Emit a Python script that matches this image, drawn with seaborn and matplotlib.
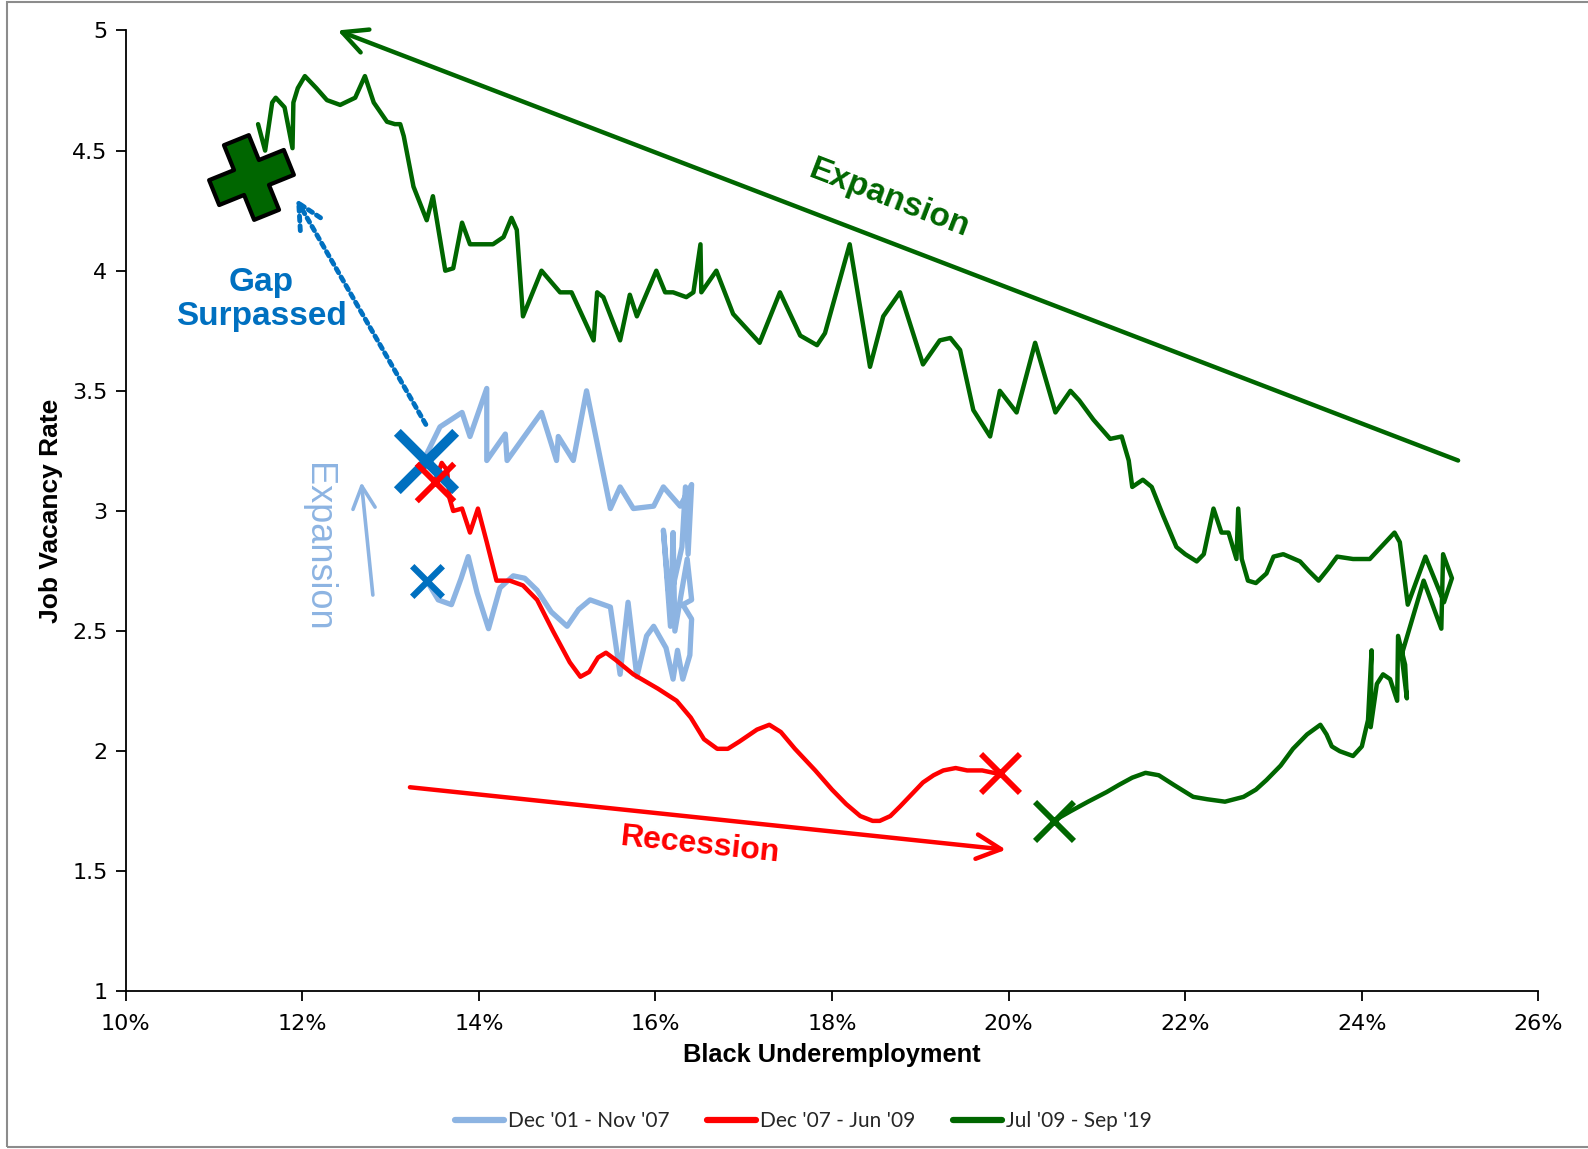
import numpy as np
import pandas as pd
import matplotlib
matplotlib.use("Agg")
import matplotlib.pyplot as plt
from matplotlib.lines import Line2D
from matplotlib.markers import MarkerStyle
from matplotlib.patches import Rectangle
from matplotlib.ticker import FuncFormatter
from matplotlib.transforms import Affine2D
import seaborn as sns

# ---------- data (x = Black underemployment %, y = job vacancy rate) ----------
pre_x = [13.41, 13.54, 13.69, 13.80, 13.88, 13.98, 14.11, 14.24, 14.39, 14.52, 14.66, 14.82,
         15.00, 15.13, 15.26, 15.49, 15.60, 15.69, 15.79, 15.90, 15.98, 16.12, 16.20, 16.25,
         16.31, 16.39, 16.41, 16.31, 16.41, 16.36, 16.22, 16.20, 16.17, 16.09, 16.16, 16.30,
         16.34, 16.37, 16.41, 16.28, 16.09, 15.98, 15.75, 15.60, 15.49, 15.22, 15.07, 14.90,
         14.88, 14.71, 14.32, 14.30, 14.09, 14.09, 13.90, 13.81, 13.56, 13.40]
pre_y = [2.71, 2.63, 2.61, 2.72, 2.81, 2.66, 2.51, 2.68, 2.73, 2.72, 2.67, 2.58,
         2.52, 2.59, 2.63, 2.60, 2.32, 2.62, 2.31, 2.48, 2.52, 2.43, 2.30, 2.42,
         2.30, 2.40, 2.55, 2.61, 2.63, 2.80, 2.50, 2.91, 2.52, 2.92, 2.62, 2.85,
         3.10, 2.82, 3.11, 3.02, 3.10, 3.02, 3.01, 3.10, 3.01, 3.50, 3.21, 3.31,
         3.21, 3.41, 3.21, 3.32, 3.21, 3.51, 3.31, 3.41, 3.35, 3.23]

rec_x = [13.50, 13.58, 13.64, 13.67, 13.71, 13.81, 13.90, 13.99, 14.09, 14.20, 14.35, 14.50,
         14.66, 14.84, 15.03, 15.15, 15.25, 15.35, 15.44, 15.55, 15.75, 16.03, 16.24, 16.40,
         16.55, 16.70, 16.82, 16.95, 17.15, 17.29, 17.42, 17.58, 17.81, 18.00, 18.16, 18.32,
         18.46, 18.54, 18.66, 18.77, 18.90, 19.03, 19.15, 19.26, 19.40, 19.53, 19.70, 19.83,
         19.90]
rec_y = [3.12, 3.20, 3.17, 3.05, 3.00, 3.01, 2.91, 3.01, 2.87, 2.71, 2.71, 2.69,
         2.63, 2.50, 2.37, 2.31, 2.33, 2.39, 2.41, 2.38, 2.32, 2.26, 2.21, 2.14,
         2.05, 2.01, 2.01, 2.04, 2.09, 2.11, 2.08, 2.01, 1.92, 1.84, 1.78, 1.73,
         1.71, 1.71, 1.73, 1.77, 1.82, 1.87, 1.90, 1.92, 1.93, 1.92, 1.92, 1.91,
         1.91]

exp_x = [20.51, 20.70, 20.90, 21.11, 21.25, 21.40, 21.55, 21.70, 21.87, 22.09, 22.25, 22.45,
         22.66, 22.80, 22.92, 23.08, 23.22, 23.38, 23.53, 23.60, 23.66, 23.75, 23.90, 24.00,
         24.07, 24.11, 24.10, 24.17, 24.24, 24.32, 24.40, 24.41, 24.49, 24.51, 24.45, 24.70,
         24.90, 24.92, 25.02, 24.93, 24.72, 24.52, 24.43, 24.37, 24.09, 23.90, 23.72, 23.62,
         23.51, 23.40, 23.30, 23.11, 23.00, 22.92, 22.80, 22.71, 22.64, 22.60, 22.58, 22.49,
         22.41, 22.32, 22.21, 22.13, 22.00, 21.90, 21.75, 21.62, 21.52, 21.40, 21.36, 21.28,
         21.15, 20.96, 20.80, 20.70, 20.53, 20.30, 20.09, 19.90, 19.79, 19.60, 19.45, 19.34,
         19.22, 19.03, 18.77, 18.58, 18.43, 18.20, 17.92, 17.83, 17.64, 17.41, 17.18, 16.88,
         16.69, 16.52, 16.51, 16.43, 16.35, 16.20, 16.11, 16.01, 15.79, 15.71, 15.60, 15.41,
         15.34, 15.30, 15.05, 14.92, 14.71, 14.50, 14.43, 14.37, 14.28, 14.16, 13.90, 13.81,
         13.71, 13.62, 13.48, 13.41, 13.26, 13.15, 13.11, 13.05, 12.96, 12.81, 12.71, 12.60,
         12.43, 12.28, 12.16, 12.03, 11.95, 11.90, 11.89, 11.80, 11.70, 11.66, 11.58, 11.50]
exp_y = [1.71, 1.75, 1.79, 1.83, 1.86, 1.89, 1.91, 1.90, 1.86, 1.81, 1.80, 1.79,
         1.81, 1.84, 1.88, 1.94, 2.01, 2.07, 2.11, 2.07, 2.02, 2.00, 1.98, 2.02,
         2.13, 2.42, 2.10, 2.28, 2.32, 2.30, 2.21, 2.48, 2.36, 2.22, 2.40, 2.71,
         2.51, 2.82, 2.72, 2.62, 2.81, 2.61, 2.87, 2.91, 2.80, 2.80, 2.81, 2.76,
         2.71, 2.75, 2.79, 2.82, 2.81, 2.74, 2.70, 2.71, 2.80, 3.01, 2.80, 2.91,
         2.91, 3.01, 2.82, 2.79, 2.82, 2.85, 2.98, 3.10, 3.13, 3.10, 3.21, 3.31,
         3.30, 3.38, 3.46, 3.50, 3.41, 3.70, 3.41, 3.50, 3.31, 3.42, 3.67, 3.72,
         3.71, 3.61, 3.91, 3.81, 3.60, 4.11, 3.74, 3.69, 3.73, 3.91, 3.70, 3.82,
         4.00, 3.91, 4.11, 3.91, 3.89, 3.91, 3.91, 4.00, 3.81, 3.90, 3.71, 3.89,
         3.91, 3.71, 3.91, 3.91, 4.00, 3.81, 4.17, 4.22, 4.14, 4.11, 4.11, 4.20,
         4.01, 4.00, 4.31, 4.21, 4.35, 4.56, 4.61, 4.61, 4.62, 4.70, 4.81, 4.72,
         4.69, 4.71, 4.76, 4.81, 4.76, 4.70, 4.51, 4.68, 4.72, 4.70, 4.50, 4.61]

series_labels = ["Dec '01 - Nov '07", "Dec '07 - Jun '09", "Jul '09 - Sep '19"]
gap_x, gap_y = [11.42], [4.39]

LIGHT_BLUE = "#8DB4E2"
RED = "#FF0000"
GREEN = "#006600"
BLUE = "#0070C0"

sns.set_theme(style="ticks")
plt.rcParams["font.family"] = ["DejaVu Sans"]

fig = plt.figure(figsize=(15.88, 11.49), dpi=100)
ax = fig.add_axes([0.0791, 0.1371, 0.8897, 0.8364])

# ---------- series lines ----------
series = [
    (series_labels[0], pre_x, pre_y, LIGHT_BLUE, 3.8),
    (series_labels[1], rec_x, rec_y, RED, 3.2),
    (series_labels[2], exp_x, exp_y, GREEN, 3.2),
]
for label, xs, ys, color, lw in series:
    df = pd.DataFrame({"x": xs, "y": ys})
    sns.lineplot(data=df, x="x", y="y", sort=False, estimator=None, color=color,
                 linewidth=lw, ax=ax, solid_joinstyle="round", solid_capstyle="round")

# ---------- start / end markers ----------
def cross(x, y, color, size, lw):
    sns.scatterplot(x=[x], y=[y], marker="x", s=size ** 2, color=color,
                    linewidth=lw, edgecolor=None, ax=ax, zorder=5, legend=False)

cross(pre_x[0], pre_y[0], BLUE, 22, 4.5)
cross(pre_x[-1], pre_y[-1] - 0.02, BLUE, 42, 7)
cross(rec_x[0], rec_y[0], RED, 27, 4.2)
cross(rec_x[-1], rec_y[-1], RED, 28, 4.2)
cross(exp_x[0], exp_y[0], GREEN, 28, 4.2)

plus = MarkerStyle("P", transform=Affine2D().rotate_deg(22))
sns.scatterplot(x=gap_x, y=gap_y, marker=plus, s=58 ** 2, color=GREEN,
                edgecolor="black", linewidth=3, ax=ax, zorder=6, legend=False)

# ---------- arrows and notes ----------
def arrow(start, end, color, lw, scale, ls="-"):
    ax.annotate("", xy=end, xytext=start, annotation_clip=False,
                arrowprops=dict(arrowstyle="->,head_length=0.8,head_width=0.4",
                                color=color, lw=lw, linestyle=ls,
                                shrinkA=0, shrinkB=0, mutation_scale=scale))

arrow((25.09, 3.21), (12.40, 5.0), GREEN, 3.2, 22)
arrow((13.22, 1.85), (19.97, 1.59), RED, 3.2, 22)
arrow((12.80, 2.65), (12.67, 3.12), LIGHT_BLUE, 2.6, 20)
arrow((13.40, 3.36), (11.93, 4.30), BLUE, 3.5, 22, (0, (1, 1)))

bold_font = ["Liberation Sans", "DejaVu Sans"]
ax.text(18.65, 4.30, "Expansion", rotation=-21, color=GREEN, fontsize=24, fontweight="bold",
        ha="center", va="center", rotation_mode="anchor", family=bold_font)
ax.text(16.51, 1.61, "Recession", rotation=-6, color=RED, fontsize=23, fontweight="bold",
        ha="center", va="center", rotation_mode="anchor", family=bold_font)
ax.text(12.17, 2.85, "Expansion", rotation=-90, color=LIGHT_BLUE, fontsize=26,
        ha="center", va="center", rotation_mode="anchor", family=bold_font)
ax.text(11.54, 3.88, "Gap\nSurpassed", color=BLUE, fontsize=24, fontweight="bold",
        ha="center", va="center", linespacing=1.12, family=bold_font)

# ---------- axes ----------
ax.set_xlim(10, 26)
ax.set_ylim(1, 5)
ax.set_xticks(np.arange(10, 27, 2))
ax.set_yticks(np.arange(1, 5.01, 0.5))
ax.xaxis.set_major_formatter(FuncFormatter(lambda v, _: f"{v:.0f}%"))
ax.yaxis.set_major_formatter(FuncFormatter(lambda v, _: f"{v:g}"))
ax.tick_params(direction="out", length=7, width=1.3, color="black", labelsize=16,
               labelcolor="black", pad=9)
ax.tick_params(axis="y", pad=6)
for side in ["top", "right"]:
    ax.spines[side].set_visible(False)
for side in ["left", "bottom"]:
    ax.spines[side].set_color("black")
    ax.spines[side].set_linewidth(1.3)
ax.grid(False)

ax.set_xlabel("Black Underemployment", fontsize=18.3, fontweight="bold", color="black",
              family=bold_font)
ax.xaxis.set_label_coords(0.5, -0.054)
ax.set_ylabel("Job Vacancy Rate", fontsize=19, fontweight="bold", color="black",
              family=bold_font)
ax.yaxis.set_label_coords(-0.044, 0.5)

# ---------- legend ----------
handles = [Line2D([], [], color=c, lw=4.5, solid_capstyle="round")
           for c in [LIGHT_BLUE, RED, GREEN]]
fig.legend(handles, series_labels, loc="center", bbox_to_anchor=(0.506, 0.0244), ncol=3,
           frameon=False, handlelength=2.35, handletextpad=0.2, columnspacing=1.8,
           prop={"family": ["Lato", "DejaVu Sans"], "size": 15})

# thin grey frame around the chart area
fig.patches.append(Rectangle((7 / 1588, 2 / 1149), 2, 1 - 4 / 1149, transform=fig.transFigure,
                             fill=False, edgecolor="#8c8c8c", lw=1.5))

fig.savefig("out.png", dpi=100)
plt.close(fig)
